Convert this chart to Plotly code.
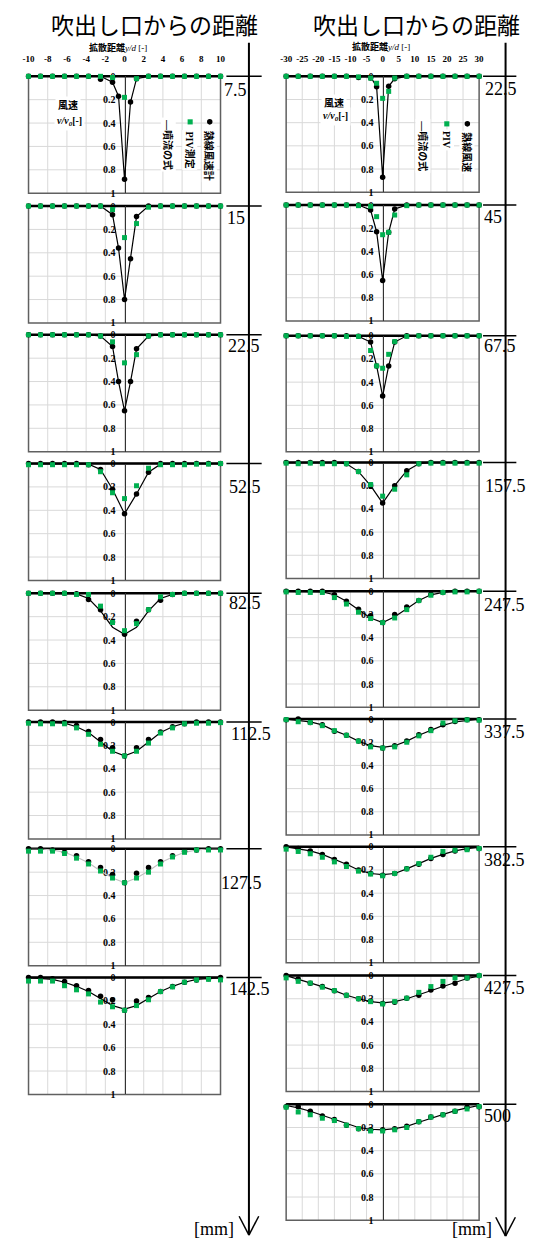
import plotly.graph_objects as go

# ---------------------------------------------------------------- data ----
# lateral measuring positions, y/d [-]
yd_left = [-10, -8.75, -7.5, -6.25, -5, -3.75, -2.5, -1.25, 0,
           1.25, 2.5, 3.75, 5, 6.25, 7.5, 8.75, 10]
yd_left_fine = [-10, -8.75, -7.5, -6.25, -5, -3.75, -2.5, -1.25, -0.625, 0,
                0.625, 1.25, 2.5, 3.75, 5, 6.25, 7.5, 8.75, 10]
yd_right = [-30, -26.25, -22.5, -18.75, -15, -11.25, -7.5, -3.75, 0,
            3.75, 7.5, 11.25, 15, 18.75, 22.5, 26.25, 30]
yd_right_fine = [-30, -26.25, -22.5, -18.75, -15, -11.25, -7.5, -3.75, -1.875, 0,
                 1.875, 3.75, 7.5, 11.25, 15, 18.75, 22.5, 26.25, 30]

# distance from the outlet [mm] for each profile
dist_left = ["7.5", "15", "22.5", "52.5", "82.5", "112.5", "127.5", "142.5"]
dist_right = ["22.5", "45", "67.5", "157.5", "247.5", "337.5", "382.5", "427.5", "500"]

xtick_left = [-10, -8, -6, -4, -2, 0, 2, 4, 6, 8, 10]
xtick_right = [-30, -25, -20, -15, -10, -5, 0, 5, 10, 15, 20, 25, 30]
vtick = [0, 0.2, 0.4, 0.6, 0.8, 1]
vtick_text = ["0", "0.2", "0.4", "0.6", "0.8", "1"]

# hot-wire anemometer, v/v0
hw_x_left = [yd_left_fine, yd_left_fine, yd_left_fine, yd_left, yd_left, yd_left, yd_left, yd_left]
hw_left = [
    [0, 0, 0, 0, 0, 0, 0.025, 0.05, 0.17, 0.88, 0.22, 0.02, 0, 0, 0, 0, 0, 0, 0],
    [0, 0, 0, 0, 0, 0, 0, 0.074, 0.36, 0.80, 0.45, 0.09, 0, 0, 0, 0, 0, 0, 0],
    [0, 0, 0, 0, 0, 0, 0.01, 0.1, 0.4, 0.65, 0.4, 0.12, 0.01, 0, 0, 0, 0, 0, 0],
    [0, 0, 0, 0, 0, 0.01, 0.05, 0.22, 0.43, 0.26, 0.074, 0, 0, 0, 0, 0, 0],
    [0, 0, 0, 0, 0.005, 0.054, 0.14, 0.245, 0.35, 0.24, 0.14, 0.06, 0.01, 0, 0, 0, 0],
    [0, 0, 0, 0.005, 0.03, 0.08, 0.15, 0.22, 0.29, 0.22, 0.15, 0.085, 0.04, 0.015, 0, 0, 0],
    [0, 0, 0.01, 0.03, 0.06, 0.11, 0.16, 0.22, 0.29, 0.21, 0.16, 0.11, 0.06, 0.02, 0.01, 0, 0],
    [0, 0, 0.01, 0.034, 0.07, 0.11, 0.16, 0.19, 0.28, 0.2, 0.17, 0.12, 0.077, 0.04, 0.02, 0.01, 0],
]
hw_x_right = [yd_right_fine, yd_right_fine, yd_right_fine, yd_right, yd_right,
              yd_right, yd_right, yd_right, yd_right]
hw_right = [
    [0, 0, 0, 0, 0, 0, 0.01, 0.015, 0.09, 0.87, 0.086, 0.02, 0, 0, 0, 0, 0, 0, 0],
    [0, 0, 0, 0, 0, 0, 0, 0.043, 0.23, 0.65, 0.235, 0.034, 0, 0, 0, 0, 0, 0, 0],
    [0, 0, 0, 0, 0, 0, 0.005, 0.054, 0.26, 0.52, 0.26, 0.054, 0, 0, 0, 0, 0, 0, 0],
    [0, 0, 0, 0, 0, 0.01, 0.078, 0.2, 0.35, 0.2, 0.07, 0.01, 0, 0, 0, 0, 0],
    [0, 0, 0, 0, 0.03, 0.086, 0.155, 0.21, 0.27, 0.2, 0.135, 0.08, 0.026, 0.01, 0, 0, 0],
    [0.005, 0, 0.03, 0.05, 0.106, 0.14, 0.19, 0.23, 0.25, 0.23, 0.19, 0.135, 0.09, 0.05, 0.02, 0.005, 0.005],
    [0, 0.015, 0.037, 0.066, 0.11, 0.15, 0.2, 0.23, 0.245, 0.23, 0.19, 0.15, 0.1, 0.066, 0.037, 0.02, 0.015],
    [0, 0.03, 0.066, 0.095, 0.13, 0.17, 0.2, 0.22, 0.24, 0.23, 0.195, 0.17, 0.125, 0.09, 0.066, 0.02, 0],
    [0.02, 0.02, 0.06, 0.1, 0.13, 0.18, 0.21, 0.22, 0.22, 0.21, 0.19, 0.15, 0.11, 0.09, 0.06, 0.025, 0.02],
]

# PIV measurement, v/v0
piv_x_left = [yd_left] * 8
piv_left = [
    [0, 0, 0, 0, 0, 0, 0, 0.01, 0.18, 0.02, 0, 0, 0, 0, 0, 0, 0],
    [0, 0, 0, 0, 0, 0, 0, 0.03, 0.27, 0.15, 0.01, 0, 0, 0, 0, 0, 0],
    [0, 0, 0, 0, 0, 0, 0.01, 0.06, 0.24, 0.17, 0.01, 0, 0, 0, 0, 0, 0],
    [0.01, 0.01, 0.01, 0.01, 0.01, 0.01, 0.07, 0.25, 0.30, 0.19, 0.04, 0.01, 0.01, 0.01, 0.005, 0.005, 0],
    [0, 0, 0, 0, 0.01, 0.01, 0.11, 0.25, 0.32, 0.26, 0.14, 0.03, 0.01, 0, 0, 0, 0],
    [0.01, 0.015, 0.015, 0.015, 0.05, 0.105, 0.19, 0.25, 0.29, 0.25, 0.18, 0.094, 0.05, 0.015, 0.01, 0.01, 0.005],
    [0.02, 0.02, 0.02, 0.04, 0.08, 0.13, 0.19, 0.25, 0.29, 0.25, 0.2, 0.13, 0.07, 0.03, 0.01, 0.01, 0.01],
    [0.03, 0.03, 0.03, 0.07, 0.105, 0.14, 0.21, 0.25, 0.28, 0.24, 0.19, 0.12, 0.08, 0.04, 0.02, 0.015, 0.02],
]
piv_x_right = [yd_right_fine, yd_right_fine, yd_right_fine, yd_right, yd_right,
               yd_right, yd_right, yd_right, yd_right]
piv_right = [
    [0, 0, 0, 0, 0, 0, 0.005, 0.015, 0.06, 0.19, 0.13, 0.015, 0, 0, 0, 0, 0, 0, 0],
    [0, 0, 0, 0, 0, 0, 0.005, 0.01, 0.1, 0.256, 0.235, 0.086, 0.005, 0, 0, 0, 0, 0, 0],
    [0, 0, 0, 0, 0, 0.005, 0.005, 0.127, 0.26, 0.28, 0.16, 0.05, 0.005, 0, 0, 0, 0, 0, 0],
    [0.005, 0.01, 0.005, 0.01, 0.01, 0.01, 0.078, 0.19, 0.29, 0.23, 0.106, 0.01, 0.005, 0.005, 0.005, 0.005, 0.005],
    [0.005, 0.01, 0.01, 0.01, 0.054, 0.11, 0.18, 0.235, 0.27, 0.23, 0.158, 0.08, 0.034, 0.01, 0.005, 0.005, 0],
    [0.005, 0.023, 0.03, 0.057, 0.1, 0.14, 0.19, 0.24, 0.25, 0.24, 0.2, 0.145, 0.1, 0.034, 0.015, 0.007, 0.01],
    [0.02, 0.04, 0.06, 0.09, 0.13, 0.17, 0.21, 0.235, 0.25, 0.23, 0.19, 0.145, 0.09, 0.04, 0.03, 0.025, 0.015],
    [0.02, 0.05, 0.065, 0.1, 0.13, 0.17, 0.2, 0.225, 0.245, 0.225, 0.195, 0.145, 0.095, 0.05, 0.02, 0.02, 0],
    [0.025, 0.066, 0.09, 0.12, 0.14, 0.18, 0.21, 0.23, 0.23, 0.22, 0.2, 0.15, 0.11, 0.09, 0.06, 0.04, 0.02],
]

# jet formula (噴流の式), v/v0 on the hot-wire positions
jet_left = [
    [0, 0, 0, 0, 0, 0, 0, 0.05, 0.17, 0.88, 0.22, 0.02, 0, 0, 0, 0, 0, 0, 0],
    [0, 0, 0, 0, 0, 0, 0, 0.074, 0.36, 0.80, 0.45, 0.09, 0, 0, 0, 0, 0, 0, 0],
    [0, 0, 0, 0, 0, 0, 0.01, 0.1, 0.4, 0.65, 0.4, 0.12, 0.01, 0, 0, 0, 0, 0, 0],
    [0, 0, 0, 0, 0, 0.005, 0.05, 0.22, 0.43, 0.26, 0.074, 0.005, 0, 0, 0, 0, 0],
    [0, 0, 0, 0, 0.005, 0.045, 0.15, 0.29, 0.35, 0.29, 0.15, 0.045, 0.01, 0, 0, 0, 0],
    [0, 0, 0.005, 0.01, 0.04, 0.09, 0.17, 0.25, 0.29, 0.25, 0.17, 0.09, 0.04, 0.01, 0.005, 0, 0],
    [0, 0, 0.01, 0.03, 0.07, 0.12, 0.19, 0.25, 0.29, 0.25, 0.19, 0.12, 0.07, 0.03, 0.01, 0, 0],
    [0, 0.005, 0.015, 0.04, 0.075, 0.12, 0.18, 0.24, 0.27, 0.24, 0.18, 0.12, 0.075, 0.04, 0.015, 0.005, 0],
]
jet_right = [
    [0, 0, 0, 0, 0, 0, 0, 0.005, 0.09, 0.87, 0.086, 0.02, 0, 0, 0, 0, 0, 0, 0],
    [0, 0, 0, 0, 0, 0, 0, 0.043, 0.23, 0.65, 0.235, 0.034, 0, 0, 0, 0, 0, 0, 0],
    [0, 0, 0, 0, 0, 0, 0.005, 0.054, 0.26, 0.52, 0.26, 0.054, 0, 0, 0, 0, 0, 0, 0],
    [0, 0, 0, 0, 0, 0.01, 0.078, 0.2, 0.35, 0.2, 0.07, 0.01, 0, 0, 0, 0, 0],
    [0, 0, 0, 0.005, 0.03, 0.085, 0.16, 0.23, 0.27, 0.22, 0.15, 0.08, 0.03, 0.01, 0, 0, 0],
    [0, 0.01, 0.025, 0.05, 0.1, 0.14, 0.19, 0.23, 0.245, 0.23, 0.19, 0.14, 0.1, 0.055, 0.025, 0.01, 0],
    [0, 0.015, 0.035, 0.065, 0.105, 0.15, 0.2, 0.23, 0.24, 0.23, 0.19, 0.145, 0.1, 0.065, 0.035, 0.015, 0.005],
    [0, 0.03, 0.06, 0.095, 0.13, 0.17, 0.2, 0.225, 0.235, 0.225, 0.2, 0.165, 0.13, 0.09, 0.055, 0.025, 0.005],
    [0.01, 0.03, 0.06, 0.095, 0.13, 0.17, 0.2, 0.215, 0.22, 0.21, 0.19, 0.155, 0.12, 0.085, 0.055, 0.03, 0.01],
]

# ------------------------------------------------------------- layout ----
W, H = 538, 1246
SERIF = "Liberation Serif"
JP = "Noto Sans CJK JP"
MIX = "Liberation Serif, Noto Sans CJK JP"
GREEN = "#00b050"
GRID = "#d9d9d9"
FRAME = "#606060"


def px(x):
    return x / W


def py(y):
    return 1 - y / H


# panel frames in pixels
LEFT = dict(x0=23, x1=219, h=118, tops=[71, 202, 332, 462, 593, 723, 851, 981],
            rng=[-10, 10], ticks=xtick_left, axis_x=248, tick_x=(225, 261))
RIGHT = dict(x0=286, x1=483, h=117, tops=[71, 201, 333, 461, 591, 720, 849, 979, 1109],
             rng=[-30, 30], ticks=xtick_right, axis_x=510, tick_x=(487, 521))
label_pos_left = [(222, 85), (225, 214), (226, 343), (227, 486), (227, 603),
                  (229, 735), (218, 886), (227, 993)]
label_pos_right = [(488, 84), (487, 213), (487, 343), (488, 485), (487, 605),
                   (487, 733), (487, 862), (487, 992), (487, 1121)]

fig = go.Figure()
shapes = []
annotations = []
tickfont = dict(family=SERIF, size=10, color="black", weight="bold")


def add_panel(n, col, i, hw_x, hw_v, piv_x, piv_v, jet_v, jet_color):
    xa = "x" if n == 1 else f"x{n}"
    ya = "y" if n == 1 else f"y{n}"
    xkey = "xaxis" if n == 1 else f"xaxis{n}"
    ykey = "yaxis" if n == 1 else f"yaxis{n}"
    top = col["tops"][i]
    h = col["h"]
    xc = (col["x0"] + col["x1"]) / 2
    fig.update_layout({
        xkey: dict(domain=[px(col["x0"]), px(col["x1"])], range=col["rng"],
                   tickmode="array", tickvals=col["ticks"],
                   ticktext=[str(t) for t in col["ticks"]],
                   side="top", showticklabels=(i == 0), ticks="",
                   ticklabelstandoff=12,
                   tickfont=dict(family=SERIF, size=9, color="black", weight="bold"),
                   showgrid=False, zeroline=False, showline=False, anchor=ya,
                   fixedrange=True),
        ykey: dict(domain=[py(top + h), py(top)], range=[1, 0],
                   tickmode="array", tickvals=vtick, ticktext=vtick_text,
                   ticks="", ticklabelstandoff=7, tickfont=tickfont,
                   showgrid=False, zeroline=False,
                   showline=True, linecolor="#333333", linewidth=1.2,
                   anchor="free", position=px(xc), layer="below traces", fixedrange=True),
    })
    # grid, drawn as shapes so the frame can sit on top of it
    for t in col["ticks"][1:-1]:
        shapes.append(dict(type="line", xref=xa, yref=f"{ya} domain", x0=t, x1=t, y0=0, y1=1,
                           line=dict(color=GRID, width=1), layer="below"))
    for v in vtick[1:-1]:
        shapes.append(dict(type="line", xref=f"{xa} domain", yref=ya, x0=0, x1=1, y0=v, y1=v,
                           line=dict(color=GRID, width=1), layer="below"))
    shapes.append(dict(type="rect", xref=f"{xa} domain", yref=f"{ya} domain",
                       x0=0, x1=1, y0=0, y1=1, line=dict(color=FRAME, width=1.5),
                       layer="below"))
    shapes.append(dict(type="line", xref=f"{xa} domain", yref=f"{ya} domain",
                       x0=0, x1=1, y0=1, y1=1, line=dict(color="black", width=2.5),
                       layer="below"))

    fig.add_trace(go.Scatter(x=hw_x, y=jet_v, xaxis=xa, yaxis=ya, mode="lines",
                             line=dict(color=jet_color, width=1.2),
                             hoverinfo="skip", showlegend=False, cliponaxis=False))
    fig.add_trace(go.Scatter(x=hw_x, y=hw_v, xaxis=xa, yaxis=ya, mode="markers",
                             marker=dict(symbol="circle", size=5.5, color="black"),
                             hoverinfo="skip", showlegend=False, cliponaxis=False))
    fig.add_trace(go.Scatter(x=piv_x, y=piv_v, xaxis=xa, yaxis=ya, mode="markers",
                             marker=dict(symbol="square", size=5, color=GREEN),
                             hoverinfo="skip", showlegend=False, cliponaxis=False))
    # tick on the distance axis
    t0, t1 = col["tick_x"]
    shapes.append(dict(type="line", xref="paper", yref="paper", x0=px(t0), x1=px(t1),
                       y0=py(top), y1=py(top), line=dict(color="black", width=1.5)))


n = 0
for i in range(len(dist_left)):
    n += 1
    add_panel(n, LEFT, i, hw_x_left[i], hw_left[i], piv_x_left[i], piv_left[i],
              jet_left[i], "#c0c0c0" if dist_left[i] == "127.5" else "black")
for i in range(len(dist_right)):
    n += 1
    add_panel(n, RIGHT, i, hw_x_right[i], hw_right[i], piv_x_right[i], piv_right[i],
              jet_right[i], "black")

# distance labels
for labels, positions in ((dist_left, label_pos_left), (dist_right, label_pos_right)):
    for lab, (x, y) in zip(labels, positions):
        annotations.append(dict(text=lab, x=px(x), y=py(y), xref="paper", yref="paper",
                                xanchor="left", yanchor="middle", showarrow=False,
                                font=dict(family=SERIF, size=18, color="black"), borderpad=0))

# distance axes with open arrow heads
for col, tip in ((LEFT, 1241), (RIGHT, 1242)):
    ax = col["axis_x"]
    shapes.append(dict(type="line", xref="paper", yref="paper", x0=px(ax), x1=px(ax),
                       y0=py(37), y1=py(tip), line=dict(color="black", width=2)))
    shapes.append(dict(type="line", xref="paper", yref="paper", x0=px(ax - 10), x1=px(ax),
                       y0=py(tip - 19), y1=py(tip), line=dict(color="black", width=1.5)))
    shapes.append(dict(type="line", xref="paper", yref="paper", x0=px(ax + 10), x1=px(ax),
                       y0=py(tip - 19), y1=py(tip), line=dict(color="black", width=1.5)))

for x in (212, 476):
    annotations.append(dict(text="[mm]", x=px(x), y=py(1235), xref="paper", yref="paper",
                            xanchor="center", yanchor="middle", showarrow=False,
                            font=dict(family=SERIF, size=18, color="black")))

# column titles
for x in (152, 419):
    annotations.append(dict(text="吹出し口からの距離", x=px(x), y=py(18), xref="paper", yref="paper",
                            xanchor="center", yanchor="middle", showarrow=False,
                            font=dict(family=JP, size=23, color="black")))

# lateral axis titles
for x, y in ((114, 42), (383, 41)):
    annotations.append(dict(text="<b>拡散距離</b><i>y/d</i> [-]", x=px(x), y=py(y),
                            xref="paper", yref="paper", xanchor="center", yanchor="middle",
                            showarrow=False, font=dict(family=MIX, size=9, color="black")))

# velocity axis label inside the first panels
for (x1, y1), (x2, y2) in (((63, 100), (65, 117)), ((335, 98), (336, 112))):
    annotations.append(dict(text="<b>風速</b>", x=px(x1), y=py(y1), xref="paper", yref="paper",
                            xanchor="center", yanchor="middle", showarrow=False,
                            bgcolor="white", borderpad=2,
                            font=dict(family=MIX, size=10, color="black")))
    annotations.append(dict(text="<b><i>v/v<sub>0</sub></i>[-]</b>", x=px(x2), y=py(y2),
                            xref="paper", yref="paper", xanchor="center", yanchor="middle",
                            showarrow=False, bgcolor="white", borderpad=2,
                            font=dict(family=MIX, size=10, color="black")))

# legend: symbols and vertical captions
legend_items = [
    dict(gx=188, bx=208, my=117, jx=166, jy=140, gy=145, by=151, piv="PIV測定", hw="熱線風速計"),
    dict(gx=450, bx=471, my=119, jx=426, jy=141, gy=135, by=148, piv="PIV", hw="熱線風速"),
]
for it in legend_items:
    r = 2.6
    shapes.append(dict(type="rect", xref="paper", yref="paper",
                       x0=px(it["gx"] - r), x1=px(it["gx"] + r),
                       y0=py(it["my"] + r), y1=py(it["my"] - r),
                       fillcolor=GREEN, line=dict(width=0)))
    shapes.append(dict(type="circle", xref="paper", yref="paper",
                       x0=px(it["bx"] - 2.8), x1=px(it["bx"] + 2.8),
                       y0=py(it["my"] + 2.8), y1=py(it["my"] - 2.8),
                       fillcolor="black", line=dict(width=0)))
    for text, x, y in (("—噴流の式", it["jx"], it["jy"]),
                       (it["piv"], it["gx"], it["gy"]),
                       (it["hw"], it["bx"], it["by"])):
        annotations.append(dict(text=text, x=px(x), y=py(y), xref="paper", yref="paper",
                                xanchor="center", yanchor="middle", textangle=90,
                                showarrow=False, bgcolor="white", borderpad=1,
                                font=dict(family=MIX, size=10, color="black", weight="bold")))

fig.update_layout(width=W, height=H, margin=dict(l=0, r=0, t=0, b=0),
                  paper_bgcolor="white", plot_bgcolor="rgba(0,0,0,0)", showlegend=False,
                  shapes=shapes, annotations=annotations)

fig.write_html("out.html")
